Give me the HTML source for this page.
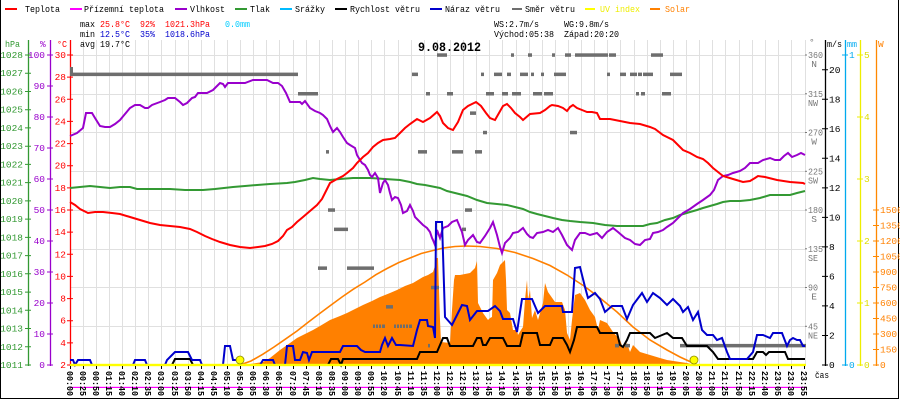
<!DOCTYPE html>
<html><head><meta charset="utf-8"><style>
html,body{margin:0;padding:0;background:#fff;}
svg{display:block;}
text{font-family:"Liberation Mono","DejaVu Sans Mono",monospace;font-size:9.5px;}
.b{font-weight:bold;}
</style></head><body>
<svg width="900" height="400" viewBox="0 0 900 400" xmlns="http://www.w3.org/2000/svg">
<rect x="0" y="0" width="900" height="400" fill="#fff"/>
<!-- border -->
<path d="M0.5 0V398.5H898.5V0" fill="none" stroke="#000" stroke-width="1"/>

<!-- grid -->
<path d="M83.5 40V365M96.5 40V365M109.5 40V365M122.5 40V365M135.5 40V365M148.5 40V365M161.5 40V365M175.5 40V365M188.5 40V365M201.5 40V365M214.5 40V365M227.5 40V365M240.5 40V365M253.5 40V365M266.5 40V365M279.5 40V365M293.5 40V365M306.5 40V365M319.5 40V365M332.5 40V365M345.5 40V365M358.5 40V365M371.5 40V365M384.5 40V365M398.5 40V365M411.5 40V365M424.5 40V365M437.5 40V365M450.5 40V365M463.5 40V365M476.5 40V365M489.5 40V365M502.5 40V365M516.5 40V365M529.5 40V365M542.5 40V365M555.5 40V365M568.5 40V365M581.5 40V365M594.5 40V365M607.5 40V365M620.5 40V365M634.5 40V365M647.5 40V365M660.5 40V365M673.5 40V365M686.5 40V365M699.5 40V365M712.5 40V365M725.5 40V365M739.5 40V365M752.5 40V365M765.5 40V365M778.5 40V365M791.5 40V365M805.5 40V365
M70 55.5H806M70 94.5H806M70 132.5H806M70 171.5H806M70 210.5H806M70 249.5H806M70 287.5H806M70 326.5H806" stroke="#e0e0e0" stroke-width="1" fill="none"/>

<!-- legend -->
<rect x="5" y="8" width="12" height="2" fill="#ff0000"/><text x="25" y="12" textLength="35" lengthAdjust="spacingAndGlyphs">Teplota</text>
<rect x="70" y="8" width="12" height="2" fill="#ff00ff"/><text x="84" y="12" textLength="80" lengthAdjust="spacingAndGlyphs">Přízemní teplota</text>
<rect x="175" y="8" width="12" height="2" fill="#9900cc"/><text x="190" y="12" textLength="35" lengthAdjust="spacingAndGlyphs">Vlhkost</text>
<rect x="235" y="8" width="12" height="2" fill="#339933"/><text x="250" y="12" textLength="20" lengthAdjust="spacingAndGlyphs">Tlak</text>
<rect x="280" y="8" width="12" height="2" fill="#00bbff"/><text x="295" y="12" textLength="30" lengthAdjust="spacingAndGlyphs">Srážky</text>
<rect x="335" y="8" width="12" height="2" fill="#000"/><text x="350" y="12" textLength="70" lengthAdjust="spacingAndGlyphs">Rychlost větru</text>
<rect x="430" y="8" width="12" height="2" fill="#0000cc"/><text x="445" y="12" textLength="55" lengthAdjust="spacingAndGlyphs">Náraz větru</text>
<rect x="512" y="8" width="10" height="2" fill="#6e6e6e"/><text x="525" y="12" textLength="50" lengthAdjust="spacingAndGlyphs">Směr větru</text>
<rect x="585" y="8" width="10" height="2" fill="#ffff00"/><text x="600" y="12" textLength="40" lengthAdjust="spacingAndGlyphs" fill="#eeee00">UV index</text>
<rect x="650" y="8" width="10" height="2" fill="#ff8000"/><text x="665" y="12" textLength="25" lengthAdjust="spacingAndGlyphs" fill="#ff8000">Solar</text>

<!-- stats -->
<text x="80" y="27" textLength="15" lengthAdjust="spacingAndGlyphs">max</text>
<text x="100" y="27" textLength="30" lengthAdjust="spacingAndGlyphs" fill="#ff0000">25.8°C</text>
<text x="140" y="27" textLength="15" lengthAdjust="spacingAndGlyphs" fill="#ff0000">92%</text>
<text x="165" y="27" textLength="45" lengthAdjust="spacingAndGlyphs" fill="#ff0000">1021.3hPa</text>
<text x="225" y="27" textLength="25" lengthAdjust="spacingAndGlyphs" fill="#00ccff">0.0mm</text>
<text x="80" y="37" textLength="15" lengthAdjust="spacingAndGlyphs">min</text>
<text x="100" y="37" textLength="30" lengthAdjust="spacingAndGlyphs" fill="#0000cc">12.5°C</text>
<text x="140" y="37" textLength="15" lengthAdjust="spacingAndGlyphs" fill="#0000cc">35%</text>
<text x="165" y="37" textLength="45" lengthAdjust="spacingAndGlyphs" fill="#0000cc">1018.6hPa</text>
<text x="80" y="47" textLength="15" lengthAdjust="spacingAndGlyphs">avg</text>
<text x="100" y="47" textLength="30" lengthAdjust="spacingAndGlyphs">19.7°C</text>
<text x="494" y="27" textLength="45" lengthAdjust="spacingAndGlyphs">WS:2.7m/s</text>
<text x="564" y="27" textLength="45" lengthAdjust="spacingAndGlyphs">WG:9.8m/s</text>
<text x="494" y="37" textLength="60" lengthAdjust="spacingAndGlyphs">Východ:05:38</text>
<text x="564" y="37" textLength="55" lengthAdjust="spacingAndGlyphs">Západ:20:20</text>
<text x="418" y="51" class="b" style="font-size:12.5px" textLength="63" lengthAdjust="spacingAndGlyphs">9.08.2012</text>

<!-- left axes -->
<text x="5" y="47" fill="#339933" textLength="15" lengthAdjust="spacingAndGlyphs">hPa</text>
<text x="40" y="47" fill="#9900cc">%</text>
<text x="57" y="47" fill="#ff0000" textLength="10" lengthAdjust="spacingAndGlyphs">°C</text>
<path d="M28.5 40V366" stroke="#339933" stroke-width="1.3"/>
<path d="M50.5 40V366" stroke="#9900cc" stroke-width="1.3"/>
<path d="M70.5 40V366" stroke="#ff0000" stroke-width="1.3"/>
<path d="M25 55H31M25 73.2H31M25 91.5H31M25 109.7H31M25 127.9H31M25 146.2H31M25 164.4H31M25 182.6H31M25 200.9H31M25 219.1H31M25 237.4H31M25 255.6H31M25 273.8H31M25 292.1H31M25 310.3H31M25 328.5H31M25 346.8H31M25 365H31" stroke="#339933" stroke-width="1"/>
<path d="M47 55H53M47 86H53M47 117H53M47 148H53M47 179H53M47 210H53M47 241H53M47 272H53M47 303H53M47 334H53M47 365H53" stroke="#9900cc" stroke-width="1"/>
<path d="M67 55H73M67 77.1H73M67 99.3H73M67 121.4H73M67 143.6H73M67 165.7H73M67 187.9H73M67 210H73M67 232.1H73M67 254.3H73M67 276.4H73M67 298.6H73M67 320.7H73M67 342.9H73M67 365H73" stroke="#ff0000" stroke-width="1"/>
<g fill="#339933" text-anchor="end">
<text x="23" y="58">1028</text><text x="23" y="76.2">1027</text><text x="23" y="94.5">1026</text><text x="23" y="112.7">1025</text><text x="23" y="130.9">1024</text><text x="23" y="149.2">1023</text><text x="23" y="167.4">1022</text><text x="23" y="185.6">1021</text><text x="23" y="203.9">1020</text><text x="23" y="222.1">1019</text><text x="23" y="240.4">1018</text><text x="23" y="258.6">1017</text><text x="23" y="276.8">1016</text><text x="23" y="295.1">1015</text><text x="23" y="313.3">1014</text><text x="23" y="331.5">1013</text><text x="23" y="349.8">1012</text><text x="23" y="368">1011</text>
</g>
<g fill="#9900cc" text-anchor="end">
<text x="45" y="58">100</text><text x="45" y="89">90</text><text x="45" y="120">80</text><text x="45" y="151">70</text><text x="45" y="182">60</text><text x="45" y="213">50</text><text x="45" y="244">40</text><text x="45" y="275">30</text><text x="45" y="306">20</text><text x="45" y="337">10</text><text x="45" y="368">0</text>
</g>
<g fill="#ff0000" text-anchor="end">
<text x="66" y="58">30</text><text x="66" y="80.1">28</text><text x="66" y="102.3">26</text><text x="66" y="124.4">24</text><text x="66" y="146.6">22</text><text x="66" y="168.7">20</text><text x="66" y="190.9">18</text><text x="66" y="213">16</text><text x="66" y="235.1">14</text><text x="66" y="257.3">12</text><text x="66" y="279.4">10</text><text x="66" y="301.6">8</text><text x="66" y="323.7">6</text><text x="66" y="345.9">4</text><text x="66" y="368">2</text>
</g>

<!-- solar fill -->
<polygon fill="#ff8000" points="240,365 250,364 263,362 270,358 280,350 290,343 297,338 305,334 313,330 320,326 330,320 340,316 347,313 355,309 363,305 372,301 380,297 390,293 397,290 405,286 413,283 418,280 423,277 428,275 433,272 435,266 436,258 438,258 439,290 440,320 441,342 450,343 452,310 454,280 455,275 460,275 465,274 470,273 475,268 477,261 478,303 483,313 488,320 490,318 492,317 493,280 497,273 500,265 502,263 505,260 506,280 507,310 510,313 513,330 517,330 518,335 521,330 523,327 525,300 527,280 528,300 530,290 532,318 535,310 538,320 543,303 545,283 548,292 555,302 562,302 565,310 567,333 570,340 572,320 575,295 580,293 585,300 590,310 595,317 598,330 600,320 607,323 613,332 620,340 623,348 627,343 630,352 633,345 640,352 650,355 660,358 667,360 680,362 687,363 695,365"/>
<!-- sun curve -->
<polyline fill="none" stroke="#ff8000" stroke-width="1.6" points="240,365 251,361 262.7,354.3 274,347 285.3,339.2 297,331 308,322.4 319,314 330.6,305.4 342,297 353.3,289.2 365,282 375.9,274.7 387,268.5 398.6,262.6 410,258 421.2,253.5 433,250.5 443.9,247.9 455,246.5 466.5,246 480,246.5 497,248.5 515,252.5 533,258.5 550,265.5 567,275 584,286 600,298 617,312 633,327 650,340 667,350 680,357 693,363 697,365"/>

<!-- wind direction blocks -->
<g fill="#6e6e6e">
<rect x="70" y="67" width="3" height="7"/>
<rect x="437" y="53.3" width="10" height="3.5"/><rect x="511" y="53.3" width="3" height="3.5"/><rect x="528" y="53.3" width="4" height="3.5"/><rect x="552" y="53.3" width="3" height="3.5"/><rect x="565" y="53.3" width="6" height="3.5"/><rect x="575" y="53.3" width="33" height="3.5"/><rect x="609" y="53.3" width="7" height="3.5"/><rect x="651" y="53.3" width="12" height="3.5"/>
<rect x="70" y="72.6" width="228" height="3.5"/><rect x="412" y="72.6" width="6" height="3.5"/><rect x="481" y="72.6" width="3" height="3.5"/><rect x="494" y="72.6" width="8" height="3.5"/><rect x="507" y="72.6" width="4" height="3.5"/><rect x="520" y="72.6" width="8" height="3.5"/><rect x="531" y="72.6" width="3" height="3.5"/><rect x="541" y="72.6" width="3" height="3.5"/><rect x="554" y="72.6" width="12" height="3.5"/><rect x="607" y="72.6" width="3" height="3.5"/><rect x="620" y="72.6" width="6" height="3.5"/><rect x="630" y="72.6" width="7" height="3.5"/><rect x="638" y="72.6" width="4" height="3.5"/><rect x="643" y="72.6" width="10" height="3.5"/><rect x="670" y="72.6" width="12" height="3.5"/>
<rect x="298" y="92" width="20" height="3.5"/><rect x="426" y="92" width="4" height="3.5"/><rect x="447" y="92" width="6" height="3.5"/><rect x="486" y="92" width="8" height="3.5"/><rect x="502" y="92" width="6" height="3.5"/><rect x="512" y="92" width="9" height="3.5"/><rect x="533" y="92" width="9" height="3.5"/><rect x="544" y="92" width="9" height="3.5"/><rect x="636" y="92" width="3" height="3.5"/><rect x="641" y="92" width="4" height="3.5"/><rect x="662" y="92" width="9" height="3.5"/>
<rect x="470" y="111.4" width="6" height="3.5"/>
<rect x="483" y="130.8" width="4" height="3.5"/><rect x="570" y="130.8" width="7" height="3.5"/>
<rect x="326" y="150.1" width="3" height="3.5"/><rect x="418" y="150.1" width="9" height="3.5"/><rect x="452" y="150.1" width="11" height="3.5"/><rect x="475" y="150.1" width="7" height="3.5"/>
<rect x="328" y="208.3" width="7" height="3.5"/><rect x="465" y="208.3" width="7" height="3.5"/>
<rect x="334" y="227.6" width="14" height="3.5"/><rect x="462" y="227.6" width="4" height="3.5"/>
<rect x="318" y="266.4" width="9" height="3.5"/><rect x="347" y="266.4" width="27" height="3.5"/>
<rect x="431" y="285.8" width="8" height="3.5"/>
<rect x="386" y="305.1" width="7" height="3.5"/>
<rect x="373" y="324.5" width="2" height="3.5"/><rect x="376" y="324.5" width="2" height="3.5"/><rect x="379" y="324.5" width="2" height="3.5"/><rect x="382" y="324.5" width="3" height="3.5"/>
<rect x="394" y="324.5" width="2" height="3.5"/><rect x="397" y="324.5" width="2" height="3.5"/><rect x="400" y="324.5" width="2" height="3.5"/><rect x="403" y="324.5" width="2" height="3.5"/><rect x="406" y="324.5" width="2" height="3.5"/><rect x="409" y="324.5" width="3" height="3.5"/>
<rect x="428" y="343.9" width="2" height="3.5"/><rect x="615" y="343.9" width="4" height="3.5"/><rect x="625" y="343.9" width="5" height="3.5"/><rect x="680" y="343.9" width="126" height="3.5"/>
</g>

<!-- pressure -->
<polyline fill="none" stroke="#339933" stroke-width="2" points="70,188 80,187 90,186 100,187 110,188 120,187 130,187 137,189 150,189 170,189 185,190 203,190 215,189 233,187 245,186 257,185 270,184 287,183 295,182 305,180 313,178 320,179 330,180 340,179 353,178 370,178 385,179 400,180 410,182 417,184 425,185 440,188 447,191 455,193 467,196 477,200 487,203 497,204 507,205 515,207 523,209 530,212 537,214 545,216 553,218 562,220 570,221 580,222 593,223 605,225 617,226 630,226 643,226 650,224 657,223 665,220 673,218 680,215 690,212 697,210 703,208 710,206 717,204 723,202 730,201 740,201 750,200 760,198 770,195 780,195 790,195 797,193 805,191"/>
<!-- humidity -->
<polyline fill="none" stroke="#9900cc" stroke-width="2" points="70,136 77,133 83,128 86,113 92,113 95,118 100,126 105,127 110,127 115,124 120,120 125,114 130,108 135,105 140,105 145,108 148,108 152,105 160,102 165,100 168,98 175,98 180,102 183,105 187,103 192,98 195,97 198,93 207,93 213,90 217,86 220,83 223,84 225,87 228,83 235,83 245,83 253,80 262,80 267,80 273,83 278,83 282,86 286,93 290,102 300,102 302,104 305,101 310,108 315,111 320,113 323,115 327,119 330,126 333,132 337,128 340,132 343,137 347,143 350,145 355,148 357,155 360,160 362,163 365,165 368,170 370,175 372,177 375,173 378,178 380,193 383,183 385,180 388,185 390,193 392,200 395,197 398,198 401,205 403,213 407,211 410,205 413,211 415,217 419,221 423,225 427,228 430,232 432,238 433,240 435,245 437,230 440,238 443,228 448,226 452,222 457,220 462,232 465,245 468,240 473,235 477,242 480,243 485,236 490,228 493,222 497,235 500,247 502,253 505,243 510,238 513,233 518,232 523,228 527,234 530,237 533,238 537,233 543,232 548,230 553,232 558,228 562,235 567,245 572,250 575,240 580,233 585,233 590,235 597,233 602,238 607,232 613,228 618,232 625,238 630,240 635,244 640,245 645,240 650,239 653,233 658,232 663,230 667,227 673,223 678,218 683,213 690,209 697,204 703,200 710,195 714,190 718,180 723,176 728,175 733,173 740,171 745,168 750,163 755,163 758,163 763,160 770,158 775,160 780,160 784,156 788,153 792,157 797,155 801,153 805,155"/>
<!-- temperature -->
<polyline fill="none" stroke="#ff0000" stroke-width="2" points="70,202 75,205 80,209 88,213 95,212 103,212 112,213 120,214 130,217 140,220 150,223 160,225 170,226 180,227 190,229 197,232 205,236 212,239 220,242 230,245 240,247 250,248 258,247 265,246 272,244 278,241 283,236 287,230 292,227 297,222 303,217 310,211 317,205 322,199 326,191 330,183 337,179 343,176 347,173 353,168 357,163 363,157 368,153 373,147 378,143 383,140 390,139 395,138 400,133 405,128 410,124 417,119 423,122 430,118 437,112 440,116 443,123 448,128 453,130 458,122 463,110 468,106 476,102 481,106 486,113 490,118 495,120 499,113 503,106 507,104 511,108 515,113 520,117 523,120 530,114 540,113 545,110 550,106 552,105 558,106 563,108 567,111 570,107 573,105 577,108 582,110 587,112 592,112 597,113 600,119 610,119 620,121 630,123 640,124 650,127 655,129 663,135 673,140 683,150 690,153 697,157 703,159 708,163 713,168 718,172 723,176 733,179 743,182 750,181 755,178 758,176 765,177 777,180 790,182 803,183 805,184"/>
<!-- wind speed -->
<polyline fill="none" stroke="#000" stroke-width="2" points="70,365 172,365 175,359 190,359 193,365 328,365 331,359 338,359 341,365 343,359 417,359 420,352 437,352 440,345 443,338 447,338 450,346 473,346 477,338 481,338 483,345 486,345 490,338 503,338 507,346 520,346 523,333 537,333 540,345 550,345 553,338 563,338 567,345 570,352 574,340 577,327 597,327 600,333 617,333 620,345 623,347 627,340 630,333 650,333 655,338 667,333 673,338 682,338 687,346 707,346 713,352 718,359 753,359 757,352 763,352 766,355 769,352 785,352 788,359 805,359"/>
<!-- gusts -->
<polyline fill="none" stroke="#0000cc" stroke-width="2" points="70,360 73,360 75,365 78,360 90,360 92,365 133,365 135,360 145,360 147,365 165,365 167,360 172,355 175,352 188,352 192,360 200,360 202,365 223,365 225,346 230,346 233,360 237,360 240,362 242,365 260,365 263,360 273,360 275,365 285,365 287,346 293,346 295,360 300,360 303,352 307,353 309,360 312,352 340,352 343,346 357,346 361,350 365,352 380,352 382,345 385,338 388,346 392,338 396,345 400,345 413,346 417,330 420,320 427,320 428,326 433,327 435,338 436,222 442,222 445,317 452,325 457,315 462,305 467,306 470,320 477,311 488,311 495,306 500,311 503,319 513,319 517,332 522,299 532,299 538,313 545,306 562,306 563,312 572,312 575,268 580,267 585,287 588,298 595,293 600,299 605,312 612,306 622,306 627,319 633,305 642,293 647,302 653,293 660,298 667,305 673,299 680,306 683,312 688,307 693,320 698,312 702,330 707,335 713,335 717,340 722,338 727,352 730,359 747,359 753,352 757,335 763,335 770,338 773,333 782,333 787,346 790,340 793,338 797,340 800,340 803,346 805,346"/>

<!-- UV line + bottom -->
<rect x="70" y="363.8" width="736" height="2.4" fill="#ffff00"/>
<circle cx="240" cy="360" r="4" fill="#ffff00" stroke="#8a8a00" stroke-width="0.8"/>
<circle cx="694" cy="360" r="4" fill="#ffff00" stroke="#8a8a00" stroke-width="0.8"/>
<rect x="70" y="386.8" width="736" height="1.2" fill="#ff00ff"/>

<!-- x ticks -->
<path d="M70.5 366V369M83.5 366V369M96.5 366V369M109.5 366V369M122.5 366V369M135.5 366V369M148.5 366V369M161.5 366V369M175.5 366V369M188.5 366V369M201.5 366V369M214.5 366V369M227.5 366V369M240.5 366V369M253.5 366V369M266.5 366V369M279.5 366V369M293.5 366V369M306.5 366V369M319.5 366V369M332.5 366V369M345.5 366V369M358.5 366V369M371.5 366V369M384.5 366V369M398.5 366V369M411.5 366V369M424.5 366V369M437.5 366V369M450.5 366V369M463.5 366V369M476.5 366V369M489.5 366V369M502.5 366V369M516.5 366V369M529.5 366V369M542.5 366V369M555.5 366V369M568.5 366V369M581.5 366V369M594.5 366V369M607.5 366V369M620.5 366V369M634.5 366V369M647.5 366V369M660.5 366V369M673.5 366V369M686.5 366V369M699.5 366V369M712.5 366V369M725.5 366V369M739.5 366V369M752.5 366V369M765.5 366V369M778.5 366V369M791.5 366V369M804.5 366V369" stroke="#000" stroke-width="1"/>

<!-- x labels -->
<g class="b" style="font-size:9px">
<text transform="translate(67,371) rotate(90)" textLength="25" lengthAdjust="spacingAndGlyphs">00:00</text>
<text transform="translate(80,371) rotate(90)" textLength="25" lengthAdjust="spacingAndGlyphs">00:25</text>
<text transform="translate(93,371) rotate(90)" textLength="25" lengthAdjust="spacingAndGlyphs">00:50</text>
<text transform="translate(106,371) rotate(90)" textLength="25" lengthAdjust="spacingAndGlyphs">01:15</text>
<text transform="translate(119,371) rotate(90)" textLength="25" lengthAdjust="spacingAndGlyphs">01:40</text>
<text transform="translate(132,371) rotate(90)" textLength="25" lengthAdjust="spacingAndGlyphs">02:10</text>
<text transform="translate(145,371) rotate(90)" textLength="25" lengthAdjust="spacingAndGlyphs">02:35</text>
<text transform="translate(158,371) rotate(90)" textLength="25" lengthAdjust="spacingAndGlyphs">03:00</text>
<text transform="translate(172,371) rotate(90)" textLength="25" lengthAdjust="spacingAndGlyphs">03:25</text>
<text transform="translate(185,371) rotate(90)" textLength="25" lengthAdjust="spacingAndGlyphs">03:50</text>
<text transform="translate(198,371) rotate(90)" textLength="25" lengthAdjust="spacingAndGlyphs">04:15</text>
<text transform="translate(211,371) rotate(90)" textLength="25" lengthAdjust="spacingAndGlyphs">04:45</text>
<text transform="translate(224,371) rotate(90)" textLength="25" lengthAdjust="spacingAndGlyphs">05:10</text>
<text transform="translate(237,371) rotate(90)" textLength="25" lengthAdjust="spacingAndGlyphs">05:40</text>
<text transform="translate(250,371) rotate(90)" textLength="25" lengthAdjust="spacingAndGlyphs">06:05</text>
<text transform="translate(263,371) rotate(90)" textLength="25" lengthAdjust="spacingAndGlyphs">06:30</text>
<text transform="translate(276,371) rotate(90)" textLength="25" lengthAdjust="spacingAndGlyphs">06:55</text>
<text transform="translate(290,371) rotate(90)" textLength="25" lengthAdjust="spacingAndGlyphs">07:20</text>
<text transform="translate(303,371) rotate(90)" textLength="25" lengthAdjust="spacingAndGlyphs">07:45</text>
<text transform="translate(316,371) rotate(90)" textLength="25" lengthAdjust="spacingAndGlyphs">08:10</text>
<text transform="translate(329,371) rotate(90)" textLength="25" lengthAdjust="spacingAndGlyphs">08:35</text>
<text transform="translate(342,371) rotate(90)" textLength="25" lengthAdjust="spacingAndGlyphs">09:00</text>
<text transform="translate(355,371) rotate(90)" textLength="25" lengthAdjust="spacingAndGlyphs">09:30</text>
<text transform="translate(368,371) rotate(90)" textLength="25" lengthAdjust="spacingAndGlyphs">09:55</text>
<text transform="translate(381,371) rotate(90)" textLength="25" lengthAdjust="spacingAndGlyphs">10:20</text>
<text transform="translate(395,371) rotate(90)" textLength="25" lengthAdjust="spacingAndGlyphs">10:45</text>
<text transform="translate(408,371) rotate(90)" textLength="25" lengthAdjust="spacingAndGlyphs">11:10</text>
<text transform="translate(421,371) rotate(90)" textLength="25" lengthAdjust="spacingAndGlyphs">11:35</text>
<text transform="translate(434,371) rotate(90)" textLength="25" lengthAdjust="spacingAndGlyphs">12:00</text>
<text transform="translate(447,371) rotate(90)" textLength="25" lengthAdjust="spacingAndGlyphs">12:25</text>
<text transform="translate(460,371) rotate(90)" textLength="25" lengthAdjust="spacingAndGlyphs">12:50</text>
<text transform="translate(473,371) rotate(90)" textLength="25" lengthAdjust="spacingAndGlyphs">13:20</text>
<text transform="translate(486,371) rotate(90)" textLength="25" lengthAdjust="spacingAndGlyphs">13:45</text>
<text transform="translate(499,371) rotate(90)" textLength="25" lengthAdjust="spacingAndGlyphs">14:10</text>
<text transform="translate(513,371) rotate(90)" textLength="25" lengthAdjust="spacingAndGlyphs">14:35</text>
<text transform="translate(526,371) rotate(90)" textLength="25" lengthAdjust="spacingAndGlyphs">15:00</text>
<text transform="translate(539,371) rotate(90)" textLength="25" lengthAdjust="spacingAndGlyphs">15:25</text>
<text transform="translate(552,371) rotate(90)" textLength="25" lengthAdjust="spacingAndGlyphs">15:50</text>
<text transform="translate(565,371) rotate(90)" textLength="25" lengthAdjust="spacingAndGlyphs">16:15</text>
<text transform="translate(578,371) rotate(90)" textLength="25" lengthAdjust="spacingAndGlyphs">16:40</text>
<text transform="translate(591,371) rotate(90)" textLength="25" lengthAdjust="spacingAndGlyphs">17:05</text>
<text transform="translate(604,371) rotate(90)" textLength="25" lengthAdjust="spacingAndGlyphs">17:30</text>
<text transform="translate(617,371) rotate(90)" textLength="25" lengthAdjust="spacingAndGlyphs">17:55</text>
<text transform="translate(631,371) rotate(90)" textLength="25" lengthAdjust="spacingAndGlyphs">18:20</text>
<text transform="translate(644,371) rotate(90)" textLength="25" lengthAdjust="spacingAndGlyphs">18:50</text>
<text transform="translate(657,371) rotate(90)" textLength="25" lengthAdjust="spacingAndGlyphs">19:15</text>
<text transform="translate(670,371) rotate(90)" textLength="25" lengthAdjust="spacingAndGlyphs">19:40</text>
<text transform="translate(683,371) rotate(90)" textLength="25" lengthAdjust="spacingAndGlyphs">20:05</text>
<text transform="translate(696,371) rotate(90)" textLength="25" lengthAdjust="spacingAndGlyphs">20:30</text>
<text transform="translate(709,371) rotate(90)" textLength="25" lengthAdjust="spacingAndGlyphs">21:00</text>
<text transform="translate(722,371) rotate(90)" textLength="25" lengthAdjust="spacingAndGlyphs">21:25</text>
<text transform="translate(736,371) rotate(90)" textLength="25" lengthAdjust="spacingAndGlyphs">21:50</text>
<text transform="translate(749,371) rotate(90)" textLength="25" lengthAdjust="spacingAndGlyphs">22:15</text>
<text transform="translate(762,371) rotate(90)" textLength="25" lengthAdjust="spacingAndGlyphs">22:40</text>
<text transform="translate(775,371) rotate(90)" textLength="25" lengthAdjust="spacingAndGlyphs">23:05</text>
<text transform="translate(788,371) rotate(90)" textLength="25" lengthAdjust="spacingAndGlyphs">23:30</text>
<text transform="translate(801,371) rotate(90)" textLength="25" lengthAdjust="spacingAndGlyphs">23:55</text>
</g>
<text x="815" y="378" textLength="14" lengthAdjust="spacingAndGlyphs">čas</text>

<!-- direction axis -->
<g fill="#777">
<text x="809" y="45">°</text>
<rect x="805" y="54.5" width="2" height="1"/><rect x="805" y="93.3" width="2" height="1"/><rect x="805" y="132" width="2" height="1"/><rect x="805" y="170.8" width="2" height="1"/><rect x="805" y="209.5" width="2" height="1"/><rect x="805" y="248.3" width="2" height="1"/><rect x="805" y="287" width="2" height="1"/><rect x="805" y="325.8" width="2" height="1"/>
<text x="808" y="58" textLength="15" lengthAdjust="spacingAndGlyphs">360</text>
<text x="808" y="96.8" textLength="15" lengthAdjust="spacingAndGlyphs">315</text>
<text x="808" y="135.5" textLength="15" lengthAdjust="spacingAndGlyphs">270</text>
<text x="808" y="174.3" textLength="15" lengthAdjust="spacingAndGlyphs">225</text>
<text x="808" y="213" textLength="15" lengthAdjust="spacingAndGlyphs">180</text>
<text x="808" y="251.8" textLength="15" lengthAdjust="spacingAndGlyphs">135</text>
<text x="808" y="290.5" textLength="10" lengthAdjust="spacingAndGlyphs">90</text>
<text x="808" y="329.3" textLength="10" lengthAdjust="spacingAndGlyphs">45</text>
<g text-anchor="end">
<text x="817" y="67">N</text><text x="818" y="105.8" textLength="10" lengthAdjust="spacingAndGlyphs">NW</text><text x="817" y="144.5">W</text><text x="818" y="183.3" textLength="10" lengthAdjust="spacingAndGlyphs">SW</text><text x="817" y="222">S</text><text x="818" y="260.8" textLength="10" lengthAdjust="spacingAndGlyphs">SE</text><text x="817" y="299.5">E</text><text x="818" y="338.3" textLength="10" lengthAdjust="spacingAndGlyphs">NE</text>
</g>
</g>

<!-- right axes -->
<text x="827" y="47" textLength="15" lengthAdjust="spacingAndGlyphs">m/s</text>
<text x="847" y="47" fill="#00aaee" textLength="10" lengthAdjust="spacingAndGlyphs">mm</text>
<text x="878" y="47" fill="#ff8000">W</text>
<path d="M825.5 40V366" stroke="#000" stroke-width="1.3"/>
<path d="M845.5 40V366" stroke="#00aaee" stroke-width="1.3"/>
<path d="M860.5 40V366" stroke="#eeee00" stroke-width="1.3"/>
<path d="M876.5 40V366" stroke="#ff8800" stroke-width="1.3"/>
<path d="M822 365H828M822 335.5H828M822 305.9H828M822 276.4H828M822 246.9H828M822 217.4H828M822 187.9H828M822 158.3H828M822 128.8H828M822 99.3H828M822 69.8H828" stroke="#000" stroke-width="1"/>
<path d="M842 55H848M842 365H848" stroke="#00aaee" stroke-width="1"/>
<path d="M857 55H863M857 117H863M857 179H863M857 241H863M857 303H863M857 365H863" stroke="#eeee00" stroke-width="1"/>
<path d="M873 210H879M873 225.5H879M873 241H879M873 256.5H879M873 272H879M873 287.5H879M873 303H879M873 318.5H879M873 334H879M873 349.5H879M873 365H879" stroke="#ff8800" stroke-width="1"/>
<g>
<text x="829" y="368">0</text><text x="829" y="338.5">2</text><text x="829" y="308.9">4</text><text x="829" y="279.4">6</text><text x="829" y="249.9">8</text><text x="829" y="220.4">10</text><text x="829" y="190.9">12</text><text x="829" y="161.3">14</text><text x="829" y="131.8">16</text><text x="829" y="102.3">18</text><text x="829" y="72.8">20</text>
</g>
<g fill="#00aaee"><text x="849" y="58">1</text><text x="849" y="368">0</text></g>
<g fill="#dddd00"><text x="864" y="58">5</text><text x="864" y="120">4</text><text x="864" y="182">3</text><text x="864" y="244">2</text><text x="864" y="306">1</text><text x="864" y="368">0</text></g>
<g fill="#ff8000">
<text x="880" y="213">1500</text><text x="880" y="228.5">1350</text><text x="880" y="244">1200</text><text x="880" y="259.5">1050</text><text x="880" y="275">900</text><text x="880" y="290.5">750</text><text x="880" y="306">600</text><text x="880" y="321.5">450</text><text x="880" y="337">300</text><text x="880" y="352.5">150</text><text x="880" y="368">0</text>
</g>
</svg>
</body></html>
